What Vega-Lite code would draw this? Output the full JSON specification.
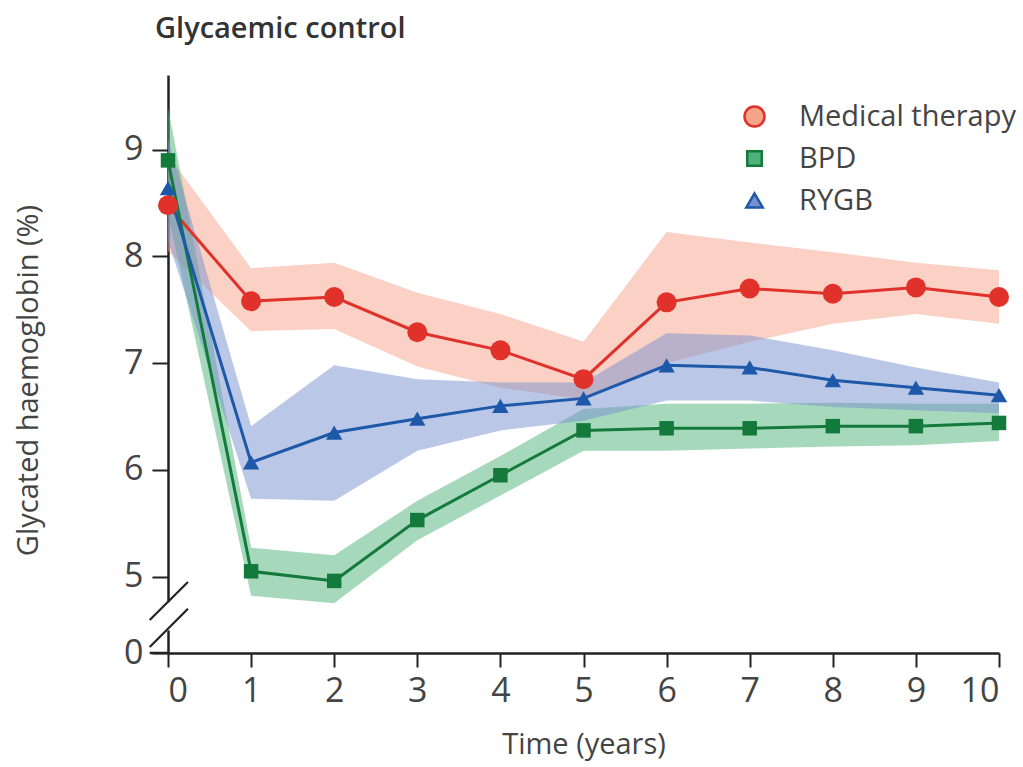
{
  "$schema": "https://vega.github.io/schema/vega-lite/v6.json",
  "autosize": "none",
  "width": 831,
  "height": 578,
  "padding": {"left": 168, "top": 75, "right": 24, "bottom": 114},
  "background": "white",
  "title": {"text": "Glycaemic control", "anchor": "start", "frame": "group", "dx": -13, "dy": 0, "offset": 8, "baseline": "alphabetic", "font": "Open Sans", "fontSize": 29, "fontWeight": 600, "color": "#333333"},
  "datasets": {
    "hba1c": [
      {"time": 0, "group": "Medical therapy", "mean": 8.48, "lo": 8.05, "hi": 8.95},
      {"time": 1, "group": "Medical therapy", "mean": 7.58, "lo": 7.30, "hi": 7.89},
      {"time": 2, "group": "Medical therapy", "mean": 7.62, "lo": 7.32, "hi": 7.94},
      {"time": 3, "group": "Medical therapy", "mean": 7.29, "lo": 6.97, "hi": 7.66},
      {"time": 4, "group": "Medical therapy", "mean": 7.12, "lo": 6.77, "hi": 7.46},
      {"time": 5, "group": "Medical therapy", "mean": 6.85, "lo": 6.66, "hi": 7.20},
      {"time": 6, "group": "Medical therapy", "mean": 7.57, "lo": 7.00, "hi": 8.23},
      {"time": 7, "group": "Medical therapy", "mean": 7.70, "lo": 7.20, "hi": 8.13},
      {"time": 8, "group": "Medical therapy", "mean": 7.65, "lo": 7.37, "hi": 8.04},
      {"time": 9, "group": "Medical therapy", "mean": 7.71, "lo": 7.46, "hi": 7.94},
      {"time": 10, "group": "Medical therapy", "mean": 7.62, "lo": 7.37, "hi": 7.87},
      {"time": 0, "group": "BPD", "mean": 8.90, "lo": 8.40, "hi": 9.40},
      {"time": 1, "group": "BPD", "mean": 5.05, "lo": 4.82, "hi": 5.27},
      {"time": 2, "group": "BPD", "mean": 4.96, "lo": 4.75, "hi": 5.20},
      {"time": 3, "group": "BPD", "mean": 5.53, "lo": 5.34, "hi": 5.71},
      {"time": 4, "group": "BPD", "mean": 5.95, "lo": 5.76, "hi": 6.13},
      {"time": 5, "group": "BPD", "mean": 6.37, "lo": 6.18, "hi": 6.57},
      {"time": 6, "group": "BPD", "mean": 6.39, "lo": 6.18, "hi": 6.62},
      {"time": 7, "group": "BPD", "mean": 6.39, "lo": 6.20, "hi": 6.62},
      {"time": 8, "group": "BPD", "mean": 6.41, "lo": 6.22, "hi": 6.63},
      {"time": 9, "group": "BPD", "mean": 6.41, "lo": 6.23, "hi": 6.62},
      {"time": 10, "group": "BPD", "mean": 6.44, "lo": 6.27, "hi": 6.62},
      {"time": 0, "group": "RYGB", "mean": 8.64, "lo": 8.15, "hi": 9.10},
      {"time": 1, "group": "RYGB", "mean": 6.07, "lo": 5.73, "hi": 6.41},
      {"time": 2, "group": "RYGB", "mean": 6.35, "lo": 5.71, "hi": 6.98},
      {"time": 3, "group": "RYGB", "mean": 6.48, "lo": 6.18, "hi": 6.85},
      {"time": 4, "group": "RYGB", "mean": 6.60, "lo": 6.37, "hi": 6.82},
      {"time": 5, "group": "RYGB", "mean": 6.67, "lo": 6.46, "hi": 6.82},
      {"time": 6, "group": "RYGB", "mean": 6.98, "lo": 6.65, "hi": 7.28},
      {"time": 7, "group": "RYGB", "mean": 6.96, "lo": 6.65, "hi": 7.26},
      {"time": 8, "group": "RYGB", "mean": 6.84, "lo": 6.59, "hi": 7.12},
      {"time": 9, "group": "RYGB", "mean": 6.77, "lo": 6.56, "hi": 6.96},
      {"time": 10, "group": "RYGB", "mean": 6.70, "lo": 6.53, "hi": 6.82}
    ],
    "breaks": [
      {"x": -0.22, "y": 4.594, "x2": 0.24, "y2": 4.95},
      {"x": -0.22, "y": 1.17, "x2": 0.24, "y2": 4.70}
    ],
    "gap": [{"x": 0, "y": 4.42, "y2": 4.76}],
    "baseline": [{"x": -0.22, "x2": 0, "y": 0}]
  },
  "encoding": {
    "x": {"field": "time", "type": "quantitative",
      "scale": {"domain": [0, 10], "nice": false, "zero": false},
      "axis": {"title": "Time (years)", "values": [0,1,2,3,4,5,6,7,8,9,10], "grid": false,
        "domainColor": "#222222", "domainWidth": 2.5, "tickColor": "#222222", "tickWidth": 2, "tickSize": 14,
        "labelFont": "Open Sans", "labelFontSize": 34, "labelColor": "#444444", "labelPadding": 7,
        "titleFont": "Open Sans", "titleFontSize": 29, "titleFontWeight": "normal", "titleColor": "#444444",
        "titleBaseline": "alphabetic", "titleY": 100}},
    "y": {"type": "quantitative",
      "scale": {"domain": [0, 4.5, 9.7], "range": [578, 555, 0], "nice": false, "zero": false},
      "axis": {"title": "Glycated haemoglobin (%)", "values": [0,5,6,7,8,9], "grid": false,
        "domainColor": "#222222", "domainWidth": 2.5, "tickColor": "#222222", "tickWidth": 2, "tickSize": 16,
        "labelFont": "Open Sans", "labelFontSize": 34, "labelColor": "#444444", "labelPadding": 9,
        "titleFont": "Open Sans", "titleFontSize": 29, "titleFontWeight": "normal", "titleColor": "#444444",
        "titleAngle": -90, "titleBaseline": "middle", "titleX": -140, "titleY": 305}}
  },
  "layer": [
    {
      "data": {"name": "hba1c"},
      "mark": {"type": "area", "opacity": 0.5},
      "encoding": {
        "y": {"field": "lo", "type": "quantitative"},
        "y2": {"field": "hi"},
        "fill": {"field": "group", "type": "nominal",
          "scale": {"domain": ["Medical therapy", "BPD", "RYGB"], "range": ["#f5a48a", "#4db37a", "#7890d0"]},
          "legend": {"encode": {"symbols": {"update": {
              "shape": {"signal": "datum.value === 'Medical therapy' ? 'M-2.75,0H2.75M-1,0A1,1 0 1,1 1,0A1,1 0 1,1 -1,0Z' : (datum.value === 'BPD' ? 'M-2.75,0H2.75M-0.7,-0.7H0.7V0.7H-0.7Z' : 'M-2.75,0H2.75M0,-0.85L0.85,0.6L-0.85,0.6Z')"},
              "size": {"value": 400},
              "stroke": {"scale": "color", "field": "value"},
              "fill": {"scale": "color", "field": "value"},
              "strokeWidth": {"value": 2.5},
              "opacity": {"value": 1},
              "fillOpacity": {"value": 1},
              "strokeOpacity": {"value": 1}
            }}}}}
      }
    },
    {
      "data": {"name": "gap"},
      "mark": {"type": "rule", "color": "white", "strokeWidth": 5},
      "encoding": {"x": {"field": "x", "type": "quantitative"}, "y": {"field": "y", "type": "quantitative"}, "y2": {"field": "y2"}}
    },
    {
      "data": {"name": "baseline"},
      "mark": {"type": "rule", "color": "#222222", "strokeWidth": 2.5},
      "encoding": {"x": {"field": "x", "type": "quantitative"}, "x2": {"field": "x2"}, "y": {"field": "y", "type": "quantitative"}}
    },
    {
      "data": {"name": "breaks"},
      "mark": {"type": "rule", "color": "#222222", "strokeWidth": 2.2},
      "encoding": {"x": {"field": "x", "type": "quantitative"}, "x2": {"field": "x2"}, "y": {"field": "y", "type": "quantitative"}, "y2": {"field": "y2"}}
    },
    {
      "data": {"values": [{}]},
      "mark": {"type": "rule", "color": "#555555", "strokeWidth": 2, "strokeDash": [8, 6]},
      "encoding": {"y": {"datum": 7}, "x": {"datum": 0}, "x2": {"datum": 10}}
    },
    {
      "data": {"name": "hba1c"},
      "mark": {"type": "line", "strokeWidth": 3},
      "encoding": {
        "y": {"field": "mean", "type": "quantitative"},
        "color": {"field": "group", "type": "nominal",
          "scale": {"domain": ["Medical therapy", "BPD", "RYGB"], "range": ["#e0312a", "#137a3c", "#1d59a8"]},
          "legend": {"encode": {"symbols": {"update": {
              "shape": {"signal": "datum.value === 'Medical therapy' ? 'M-2.75,0H2.75M-1,0A1,1 0 1,1 1,0A1,1 0 1,1 -1,0Z' : (datum.value === 'BPD' ? 'M-2.75,0H2.75M-0.7,-0.7H0.7V0.7H-0.7Z' : 'M-2.75,0H2.75M0,-0.85L0.85,0.6L-0.85,0.6Z')"},
              "size": {"value": 400},
              "stroke": {"scale": "color", "field": "value"},
              "fill": {"scale": "color", "field": "value"},
              "strokeWidth": {"value": 2.5},
              "opacity": {"value": 1},
              "fillOpacity": {"value": 1},
              "strokeOpacity": {"value": 1}
            }}}}},
        "order": {"field": "time"}
      }
    },
    {
      "data": {"name": "hba1c"},
      "mark": {"type": "point", "filled": true, "opacity": 1},
      "encoding": {
        "y": {"field": "mean", "type": "quantitative"},
        "color": {"field": "group", "type": "nominal",
          "scale": {"domain": ["Medical therapy", "BPD", "RYGB"], "range": ["#e0312a", "#137a3c", "#1d59a8"]},
          "legend": {"encode": {"symbols": {"update": {
              "shape": {"signal": "datum.value === 'Medical therapy' ? 'M-2.75,0H2.75M-1,0A1,1 0 1,1 1,0A1,1 0 1,1 -1,0Z' : (datum.value === 'BPD' ? 'M-2.75,0H2.75M-0.7,-0.7H0.7V0.7H-0.7Z' : 'M-2.75,0H2.75M0,-0.85L0.85,0.6L-0.85,0.6Z')"},
              "size": {"value": 400},
              "stroke": {"scale": "color", "field": "value"},
              "fill": {"scale": "color", "field": "value"},
              "strokeWidth": {"value": 2.5},
              "opacity": {"value": 1},
              "fillOpacity": {"value": 1},
              "strokeOpacity": {"value": 1}
            }}}}},
        "shape": {"field": "group", "type": "nominal",
          "scale": {"domain": ["Medical therapy", "BPD", "RYGB"], "range": ["circle", "square", "triangle-up"]},
          "legend": {"encode": {"symbols": {"update": {
              "shape": {"signal": "datum.value === 'Medical therapy' ? 'M-2.75,0H2.75M-1,0A1,1 0 1,1 1,0A1,1 0 1,1 -1,0Z' : (datum.value === 'BPD' ? 'M-2.75,0H2.75M-0.7,-0.7H0.7V0.7H-0.7Z' : 'M-2.75,0H2.75M0,-0.85L0.85,0.6L-0.85,0.6Z')"},
              "size": {"value": 400},
              "stroke": {"scale": "color", "field": "value"},
              "fill": {"scale": "color", "field": "value"},
              "strokeWidth": {"value": 2.5},
              "opacity": {"value": 1},
              "fillOpacity": {"value": 1},
              "strokeOpacity": {"value": 1}
            }}}}},
        "size": {"field": "group", "type": "nominal",
          "scale": {"type": "ordinal", "domain": ["Medical therapy", "BPD", "RYGB"], "range": [400, 210, 270]},
          "legend": {"encode": {"symbols": {"update": {
              "shape": {"signal": "datum.value === 'Medical therapy' ? 'M-2.75,0H2.75M-1,0A1,1 0 1,1 1,0A1,1 0 1,1 -1,0Z' : (datum.value === 'BPD' ? 'M-2.75,0H2.75M-0.7,-0.7H0.7V0.7H-0.7Z' : 'M-2.75,0H2.75M0,-0.85L0.85,0.6L-0.85,0.6Z')"},
              "size": {"value": 400},
              "stroke": {"scale": "color", "field": "value"},
              "fill": {"scale": "color", "field": "value"},
              "strokeWidth": {"value": 2.5},
              "opacity": {"value": 1},
              "fillOpacity": {"value": 1},
              "strokeOpacity": {"value": 1}
            }}}}}
      }
    }
  ],
  "config": {"view": {"stroke": null},
    "legend": {"title": null, "orient": "none", "legendX": 572, "legendY": 27, "padding": 0,
      "labelOffset": 30, "rowPadding": 12, "labelLimit": 400, "labelFont": "Open Sans", "labelFontSize": 29, "labelColor": "#444444"}}
}
